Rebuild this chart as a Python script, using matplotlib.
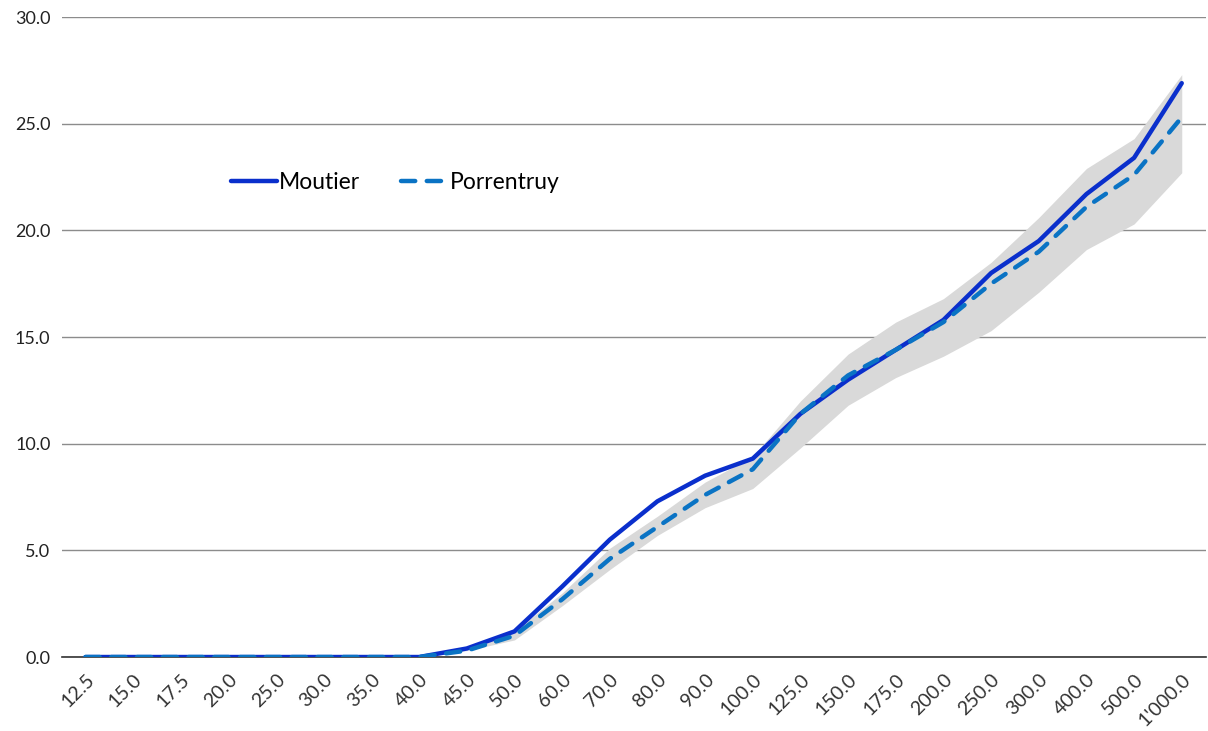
import numpy as np
from matplotlib import pyplot as plt

plt.rcParams["font.family"] = ["Lato", "DejaVu Sans"]

# Categories (x axis labels)
categories = ["12.5", "15.0", "17.5", "20.0", "25.0", "30.0", "35.0", "40.0",
              "45.0", "50.0", "60.0", "70.0", "80.0", "90.0", "100.0", "125.0",
              "150.0", "175.0", "200.0", "250.0", "300.0", "400.0", "500.0",
              "1'000.0"]

moutier = [0, 0, 0, 0, 0, 0, 0, 0,
           0.4, 1.2, 3.3, 5.5, 7.3, 8.5, 9.3, 11.4,
           13.0, 14.4, 15.8, 18.0, 19.5, 21.7, 23.4, 26.9]

porrentruy = [0, 0, 0, 0, 0, 0, 0, 0,
              0.3, 1.0, 2.7, 4.6, 6.1, 7.6, 8.8, 11.4,
              13.2, 14.4, 15.7, 17.5, 19.0, 21.1, 22.6, 25.3]

# Grey range band
band_low = [0, 0, 0, 0, 0, 0, 0, 0,
            0.3, 0.8, 2.4, 4.1, 5.7, 7.0, 7.9, 9.8,
            11.8, 13.1, 14.1, 15.3, 17.1, 19.1, 20.3, 22.7]
band_high = [0, 0, 0, 0, 0, 0, 0, 0,
             0.45, 1.2, 3.0, 5.1, 6.6, 8.2, 9.4, 12.0,
             14.2, 15.7, 16.8, 18.5, 20.6, 22.9, 24.3, 27.3]


def main():
    fig = plt.figure(figsize=(12.08, 7.31), dpi=100)
    ax = fig.add_axes([0.051, 0.1012, 0.947, 0.8755])

    x = np.arange(len(categories))

    ax.fill_between(x, band_low, band_high, color="#d9d9d9", linewidth=0, zorder=1)
    ax.plot(x, moutier, color="#0a2fcc", linewidth=3.2, solid_capstyle="round",
            label="Moutier", zorder=3)
    ax.plot(x, porrentruy, color="#0a73c4", linewidth=3.2, dashes=(3.2, 2.6),
            dash_capstyle="round", label="Porrentruy", zorder=4)

    ax.set_xlim(-0.5, len(categories) - 0.5)
    ax.set_ylim(0, 30)
    ax.set_yticks(np.arange(0, 31, 5))
    ax.set_yticklabels([f"{v:.1f}" for v in np.arange(0, 31, 5)], fontsize=13,
                       color="#222222")
    ax.set_xticks(x)
    ax.set_xticklabels(categories, rotation=45, ha="right", rotation_mode="anchor",
                       fontsize=14, color="#333333")

    ax.grid(axis="y", color="#8c8c8c", linewidth=1.0, zorder=0)
    ax.set_axisbelow(True)
    for side in ["left", "right", "top"]:
        ax.spines[side].set_visible(False)
    ax.spines["bottom"].set_color("#333333")
    ax.spines["bottom"].set_linewidth(1.2)
    ax.tick_params(axis="y", length=0, pad=8)
    ax.tick_params(axis="x", length=0, pad=10)

    ax.legend(loc="center left", bbox_to_anchor=(0.13, 0.742), ncol=2,
              frameon=False, fontsize=16.5, handlelength=2.0, handletextpad=0.1,
              columnspacing=1.8)

    fig.savefig("out.png", dpi=100)


if __name__ == "__main__":
    main()
